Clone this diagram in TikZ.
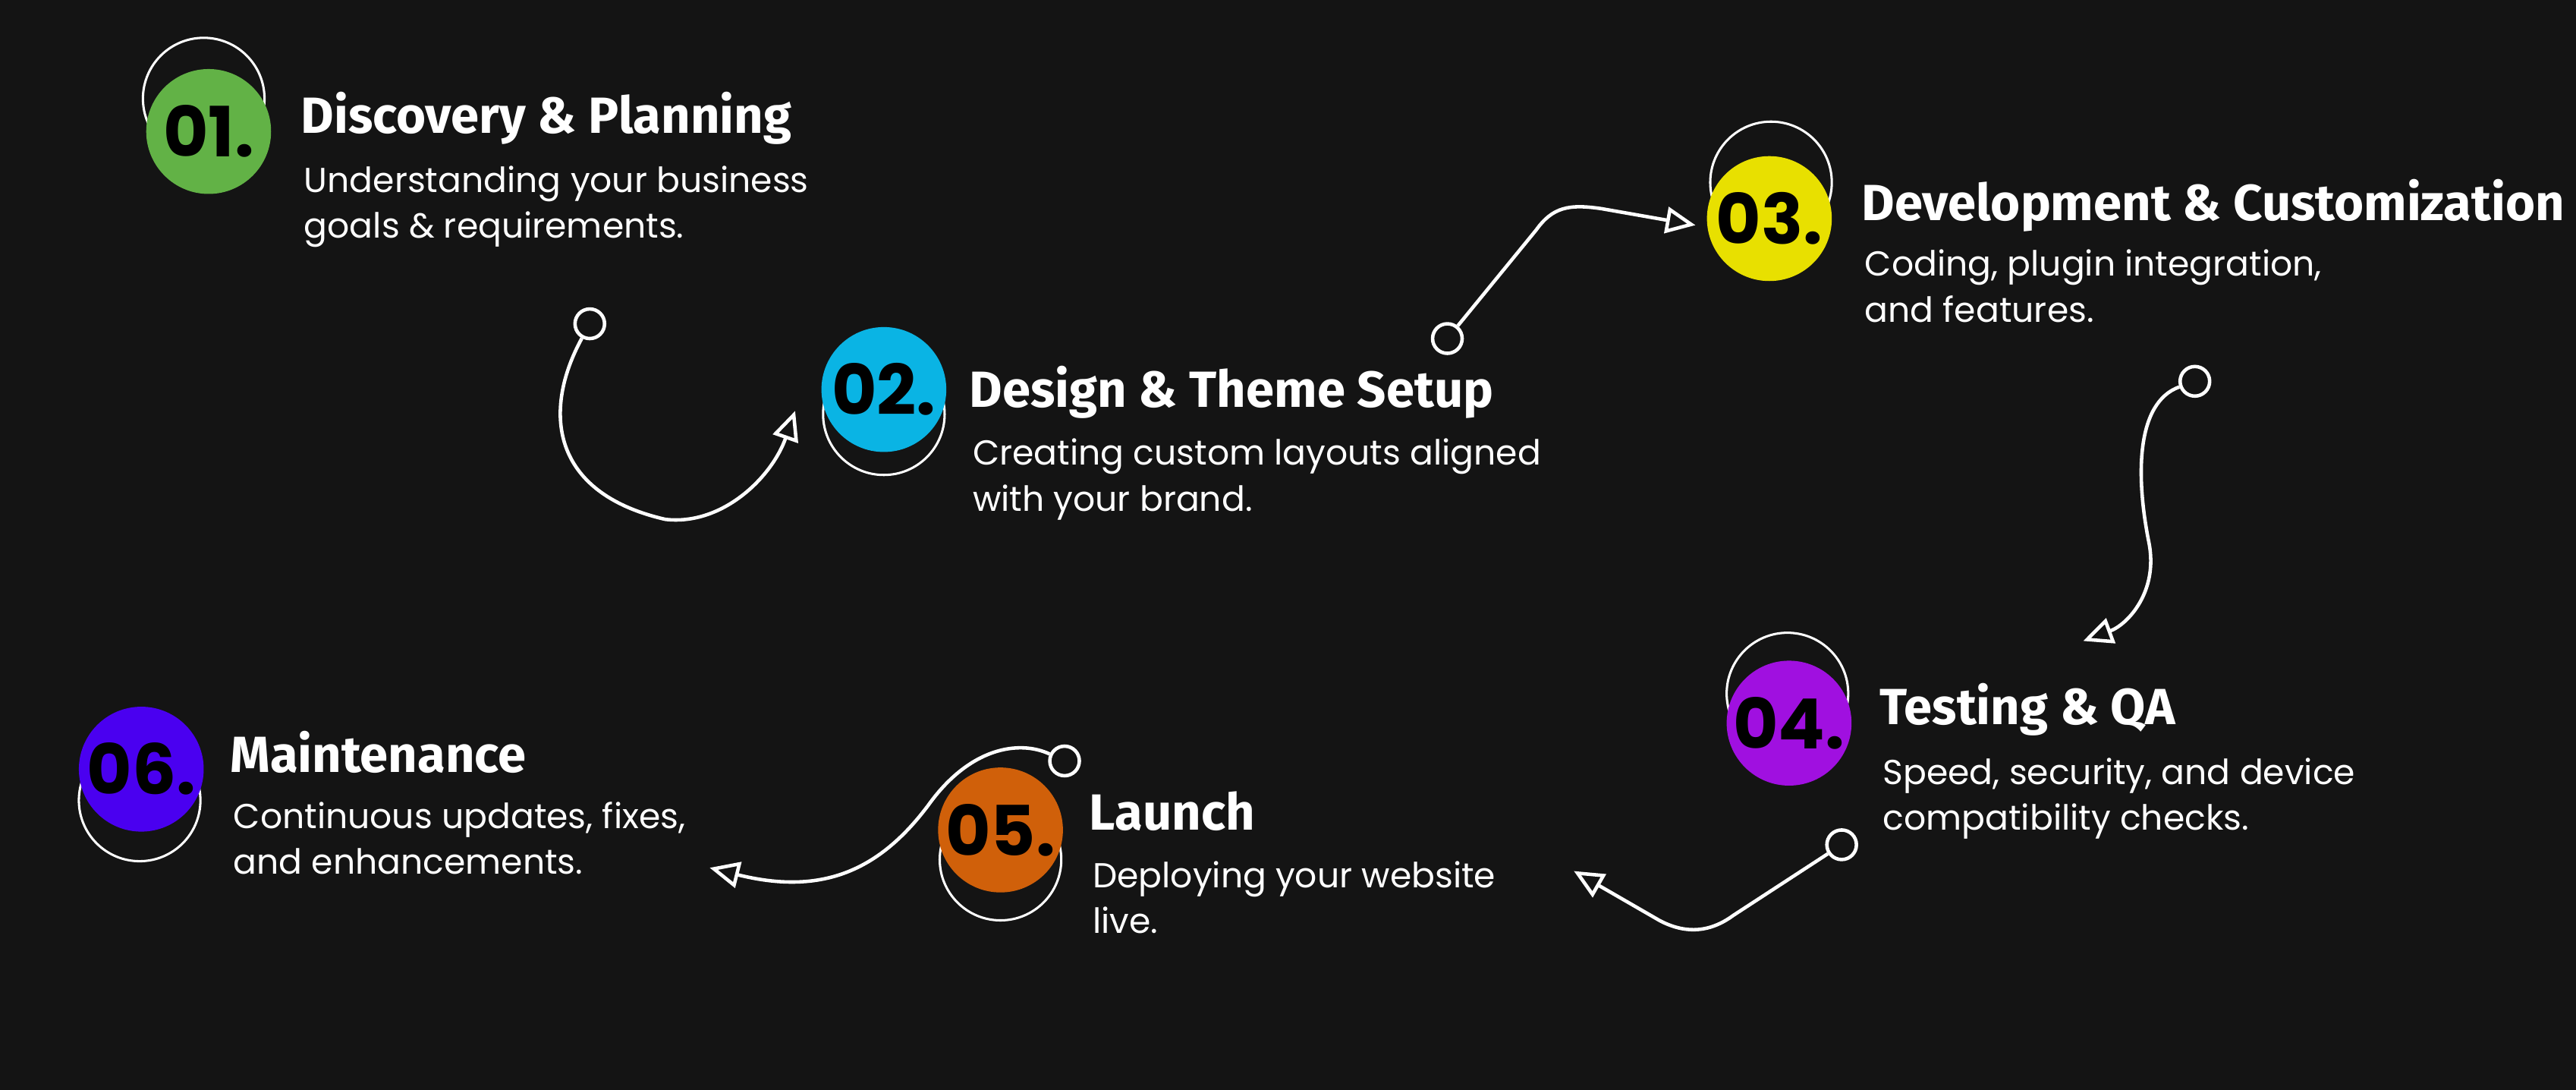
\documentclass[tikz,border=0pt]{standalone}
\usepackage{fontspec}
\usetikzlibrary{arrows.meta}
\newfontfamily\titlef{Fira Sans}
\newfontfamily\bodyf{Poppins}
\newfontfamily\numf{Poppins}
\definecolor{bg}{HTML}{141414}
\definecolor{cA}{HTML}{62B246}
\definecolor{cB}{HTML}{0AB4E4}
\definecolor{cC}{HTML}{E8E000}
\definecolor{cD}{HTML}{A010E0}
\definecolor{cE}{HTML}{D0600A}
\definecolor{cF}{HTML}{4A00F0}
\tikzset{
 ring/.style={draw=white,line width=2pt,circle,minimum size=3.7cm,inner sep=0},
 disc/.style={fill=#1,circle,minimum size=3.8cm,inner sep=0,font=\numf\fontsize{60}{60}\selectfont\bfseries,text=black},
 ttl/.style={anchor=base west,inner sep=0,text=white,font=\titlef\fontsize{44}{44}\selectfont\bfseries},
 bdy/.style={anchor=base west,inner sep=0,text=white,font=\bodyf\fontsize{30}{39.7}\selectfont,align=left},
 conn/.style={draw=white,line width=3pt,-{Triangle[open,length=0.9cm,width=0.8cm,fill=bg]}},
 dot/.style={circle,draw=white,line width=3pt,fill=bg,minimum size=0.9cm,inner sep=0},
}
\begin{document}
\begin{tikzpicture}[x=0.05cm,y=-0.05cm]
\fill[bg] (0,0) rectangle (1568,663);
\useasboundingbox (0,0) rectangle (1568,663);
% 1
\node[ring] (r1) at (124,60) {};
\node[disc=cA] (n1) at (127,80) {01.};
\node[ttl] (t1) at (183,81) {Discovery \& Planning};
\node[bdy] (b1) at (185,145) {Understanding your business\\goals \& requirements.};
% 2
\node[ring] (r2) at (538,252) {};
\node[disc=cB] (n2) at (538,237) {02.};
\node[ttl] (t2) at (590,248) {Design \& Theme Setup};
\node[bdy] (b2) at (592,311) {Creating custom layouts aligned\\with your brand.};
% 3
\node[ring] (r3) at (1078,111) {};
\node[disc=cC] (n3) at (1077,133) {03.};
\node[ttl] (t3) at (1133,134) {Development \& Customization};
\node[bdy] (b3) at (1135,196) {Coding, plugin integration,\\and features.};
% 4
\node[ring] (r4) at (1088,422) {};
\node[disc=cD] (n4) at (1089,440) {04.};
\node[ttl] (t4) at (1144,441) {Testing \& QA};
\node[bdy] (b4) at (1146,505) {Speed, security, and device\\compatibility checks.};
% 5
\node[ring] (r5) at (609,523) {};
\node[disc=cE] (n5) at (609,505) {05.};
\node[ttl] (t5) at (663,505) {Launch};
\node[bdy] (b5) at (665,568) {Deploying your website\\live.};
% 6
\node[ring] (r6) at (85,487) {};
\node[disc=cF] (n6) at (86,468) {06.};
\node[ttl] (t6) at (140,470) {Maintenance};
\node[bdy] (b6) at (142,532) {Continuous updates, fixes,\\and enhancements.};
% connectors
\coordinate (e1) at (484,250);
\coordinate (e2) at (1032,137);
\coordinate (e3) at (1268,390);
\coordinate (e4) at (958,530);
\coordinate (e5) at (432,528);
\node[dot] (d1) at (359,197) {};
\node[dot] (d2) at (881,206) {};
\node[dot] (d3) at (1336,232) {};
\node[dot] (d4) at (1121,514) {};
\node[dot] (d5) at (648,463) {};
\draw[conn] (d1) .. controls (330,250) and (335,300) .. (405,316) .. controls (440,320) and (470,290) .. (e1);
\draw[conn] (d2) -- (935,140) .. controls (945,126) and (955,124) .. (975,127) -- (e2);
\draw[conn] (d3) .. controls (1300,245) and (1300,290) .. (1308,330) .. controls (1314,360) and (1295,380) .. (e3);
\draw[conn] (d4) -- (1055,557) .. controls (1040,568) and (1025,568) .. (1010,560) -- (e4);
\draw[conn] (d5) .. controls (620,450) and (590,455) .. (565,490) .. controls (535,530) and (500,545) .. (e5);
\end{tikzpicture}
\end{document}
